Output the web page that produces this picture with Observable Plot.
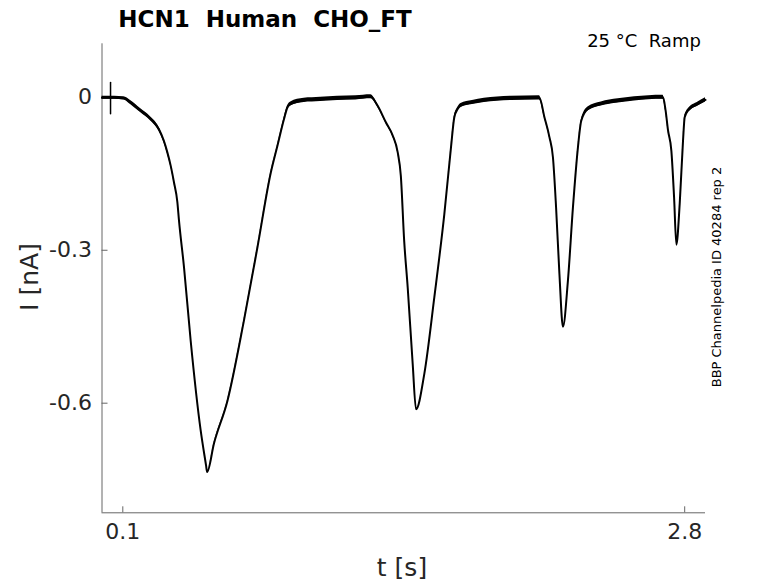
<!DOCTYPE html>
<html>
<head>
<meta charset="utf-8">
<script src="https://cdn.jsdelivr.net/npm/d3@7"></script>
<script src="https://cdn.jsdelivr.net/npm/@observablehq/plot@0.6"></script>
<style>
  body { margin: 0; background: #fff; }
  #wrap { position: relative; width: 778px; height: 583px; font-family: "DejaVu Sans", sans-serif; color: #262626; }
  .lbl { position: absolute; white-space: pre; transform: translate(-50%, -50%); line-height: 1; }
</style>
</head>
<body>
<div id="wrap">
  <div id="chart"></div>
  <div class="lbl" style="left:265px;top:19px;font-size:23px;font-weight:bold;color:#000;">HCN1  Human  CHO_FT</div>
  <div class="lbl" style="left:644px;top:41px;font-size:18px;color:#000;">25 °C  Ramp</div>
  <div class="lbl" style="left:716px;top:277px;font-size:13px;color:#000;transform:translate(-50%,-50%) rotate(-90deg);">BBP Channelpedia ID 40284 rep 2</div>
  <div class="lbl" style="left:29px;top:277px;font-size:25px;transform:translate(-50%,-50%) rotate(-90deg);">I [nA]</div>
  <div class="lbl" style="left:402px;top:567px;font-size:25px;">t [s]</div>
</div>
<script>
// time (s)
const tValues = [
  0.000, 0.030, 0.060, 0.105, 0.137, 0.185, 0.233, 0.273, 0.297, 0.314, 0.330, 0.346, 0.362, 0.370, 0.394, 0.426, 0.474, 0.500, 0.505,
  0.538, 0.603, 0.682, 0.747, 0.811, 0.843, 0.875, 0.891, 0.907, 0.971, 1.050, 1.132, 1.220, 1.292,
  1.324, 1.364, 1.397, 1.421, 1.436, 1.452, 1.469, 1.493, 1.509,
  1.549, 1.597, 1.645, 1.677, 1.693, 1.709, 1.725, 1.780, 1.837, 1.966, 2.102,
  2.126, 2.150, 2.167, 2.182, 2.198, 2.215,
  2.239, 2.263, 2.287, 2.303, 2.335, 2.399, 2.480, 2.559, 2.696,
  2.708, 2.720, 2.736, 2.749, 2.760,
  2.776, 2.792, 2.800, 2.816, 2.864, 2.900
];
// current (nA)
const iValues = [
  -0.001, -0.001, -0.001, -0.002, -0.010, -0.026, -0.042, -0.062, -0.085, -0.108, -0.134, -0.167, -0.205, -0.242, -0.333, -0.477, -0.653, -0.722, -0.735,
  -0.679, -0.595, -0.438, -0.294, -0.148, -0.095, -0.042, -0.020, -0.013, -0.006, -0.004, -0.002, -0.001, 0.001,
  -0.016, -0.049, -0.075, -0.108, -0.154, -0.281, -0.373, -0.523, -0.612,
  -0.542, -0.392, -0.229, -0.098, -0.039, -0.023, -0.016, -0.010, -0.006, -0.002, -0.001,
  -0.039, -0.078, -0.118, -0.216, -0.346, -0.450,
  -0.359, -0.216, -0.098, -0.046, -0.023, -0.013, -0.007, -0.003, 0.000,
  -0.025, -0.065, -0.105, -0.196, -0.289,
  -0.209, -0.085, -0.039, -0.026, -0.013, -0.005
];
// half-width of the recording noise band (nA)
const noiseValues = [
  0.003, 0.003, 0.003, 0.003, 0.004, 0.004, 0.004, 0.004, 0.003, 0.002, 0.001, 0.001, 0, 0, 0, 0, 0, 0, 0,
  0.001, 0.001, 0.001, 0.001, 0.001, 0.001, 0.002, 0.003, 0.004, 0.004, 0.004, 0.004, 0.004, 0.004,
  0.003, 0.002, 0.002, 0.001, 0, 0, 0, 0, 0,
  0, 0, 0, 0.001, 0.002, 0.003, 0.004, 0.004, 0.004, 0.004, 0.004,
  0.001, 0.001, 0, 0, 0, 0,
  0, 0, 0.001, 0.002, 0.004, 0.004, 0.004, 0.004, 0.004,
  0.002, 0.001, 0, 0, 0,
  0, 0.001, 0.002, 0.003, 0.004, 0.004
];
// capacitive artifact at stimulus onset
const spikeT = [0.041, 0.041];
const spikeI = [0.029, -0.032];

const xDomain = [0, 2.9];
const yDomain = [-0.815, 0.105];
const xTicks = [0.1, 2.8];
const yTicks = [0, -0.3, -0.6];

const data = tValues.map((t, k) => ({t, i: iValues[k], lo: iValues[k] - noiseValues[k], hi: iValues[k] + noiseValues[k]}));
const spike = spikeT.map((t, k) => ({t, i: spikeI[k]}));
const fmt = d => d === 0 ? "0" : String(d);

const chart = Plot.plot({
  width: 778,
  height: 583,
  marginLeft: 101.5,
  marginRight: 73,
  marginTop: 43.3,
  marginBottom: 70.7,
  style: {fontFamily: "DejaVu Sans, sans-serif", color: "#262626", background: "white", overflow: "visible"},
  x: {domain: xDomain},
  y: {domain: yDomain},
  marks: [
    Plot.ruleX([xDomain[0]], {stroke: "#666", strokeWidth: 1}),
    Plot.ruleY([yDomain[0]], {stroke: "#666", strokeWidth: 1}),
    Plot.axisX({ticks: xTicks, tickFormat: fmt, tickSize: -6, tickPadding: 17, fontSize: 22, stroke: "#666", label: null, fill: "#262626"}),
    Plot.axisY({ticks: yTicks, tickFormat: fmt, tickSize: -6, tickPadding: 16, fontSize: 22, stroke: "#666", label: null, fill: "#262626"}),
    Plot.areaY(data, {x: "t", y1: "lo", y2: "hi", fill: "black", curve: "monotone-x"}),
    Plot.line(data, {x: "t", y: "i", stroke: "black", strokeWidth: 2, strokeLinejoin: "round", curve: "monotone-x"}),
    Plot.line(spike, {x: "t", y: "i", stroke: "black", strokeWidth: 1.5})
  ]
});
document.getElementById("chart").appendChild(chart);
</script>
</body>
</html>
